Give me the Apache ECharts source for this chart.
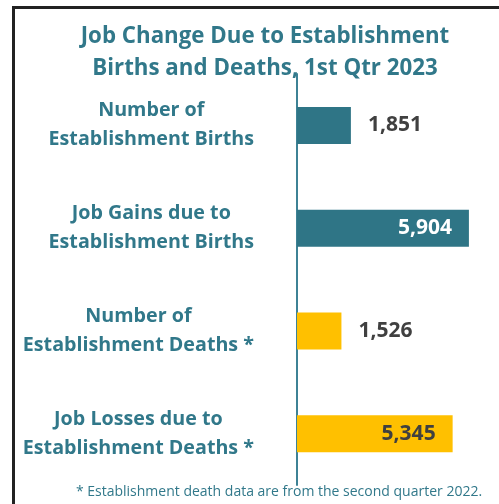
<!DOCTYPE html>
<html>
<head>
<meta charset="utf-8">
<script src="https://cdn.jsdelivr.net/npm/echarts@6/dist/echarts.min.js"></script>
<style>
  html, body { margin: 0; padding: 0; background: #fff; }
  #frame { position: absolute; left: 12px; top: 6px; width: 600px; height: 600px; border: 3px solid #222; }
  #chart { position: absolute; left: 0; top: 0; width: 499px; height: 504px; }
</style>
</head>
<body>
<div id="frame"></div>
<div id="chart"></div>
<script>
// data
const categories = [
  "Number of\nEstablishment Births",
  "Job Gains due to\nEstablishment Births",
  "Number of\nEstablishment Deaths *",
  "Job Losses due to\nEstablishment Deaths *",
];
const values = [1851, 5904, 1526, 5345];

const titleText = "Job Change Due to Establishment\nBirths and Deaths, 1st Qtr 2023";
const footnote = "* Establishment death data are from the second quarter 2022.";

const teal = "#2f7586";
const gold = "#ffc000";
const textTeal = "#31788a";
const font = "Open Sans";
const barColors = [teal, teal, gold, gold];
const insideLabel = [false, true, false, true];
const insideColor = ["#404040", "#ffffff", "#404040", "#404040"];

let myChart = echarts.init(document.getElementById("chart"));

let option = {
  backgroundColor: "transparent",
  animation: false,
  title: [
    {
      text: titleText,
      left: 260,
      top: 16,
      textAlign: "center",
      textStyle: {
        fontFamily: font,
        fontWeight: "bold",
        fontSize: 22.3,
        lineHeight: 32,
        color: textTeal,
      },
    },
    {
      text: footnote,
      left: 274,
      top: 479,
      textAlign: "center",
      textStyle: {
        fontFamily: font,
        fontWeight: "normal",
        fontSize: 14,
        lineHeight: 16,
        color: textTeal,
      },
    },
  ],
  grid: {
    left: 297,
    right: 4,
    top: 74,
    bottom: 19,
  },
  xAxis: {
    type: "value",
    min: 0,
    max: 6800,
    show: false,
  },
  yAxis: {
    type: "category",
    inverse: true,
    data: categories,
    axisLine: { show: true, lineStyle: { color: "#3e8295", width: 2 } },
    axisTick: { show: false },
    axisLabel: {
      margin: 43,
      align: "right",
      formatter: (v) => v.split("\n").map((l) => "{c|" + l + "}").join("\n"),
      rich: {
        c: {
          align: "center",
          fontFamily: font,
          fontWeight: "bold",
          fontSize: 19.7,
          lineHeight: 29,
          color: textTeal,
        },
      },
    },
  },
  series: [
    {
      type: "bar",
      barWidth: 37,
      data: values.map((v, i) => ({
        value: v,
        itemStyle: { color: barColors[i] },
        label: {
          show: true,
          position: insideLabel[i] ? "insideRight" : "right",
          distance: 17,
          color: insideColor[i],
          fontFamily: font,
          fontWeight: "bold",
          fontSize: 21,
          formatter: (p) => p.value.toLocaleString("en-US"),
        },
      })),
    },
  ],
};

myChart.setOption(option);
</script>
</body>
</html>
